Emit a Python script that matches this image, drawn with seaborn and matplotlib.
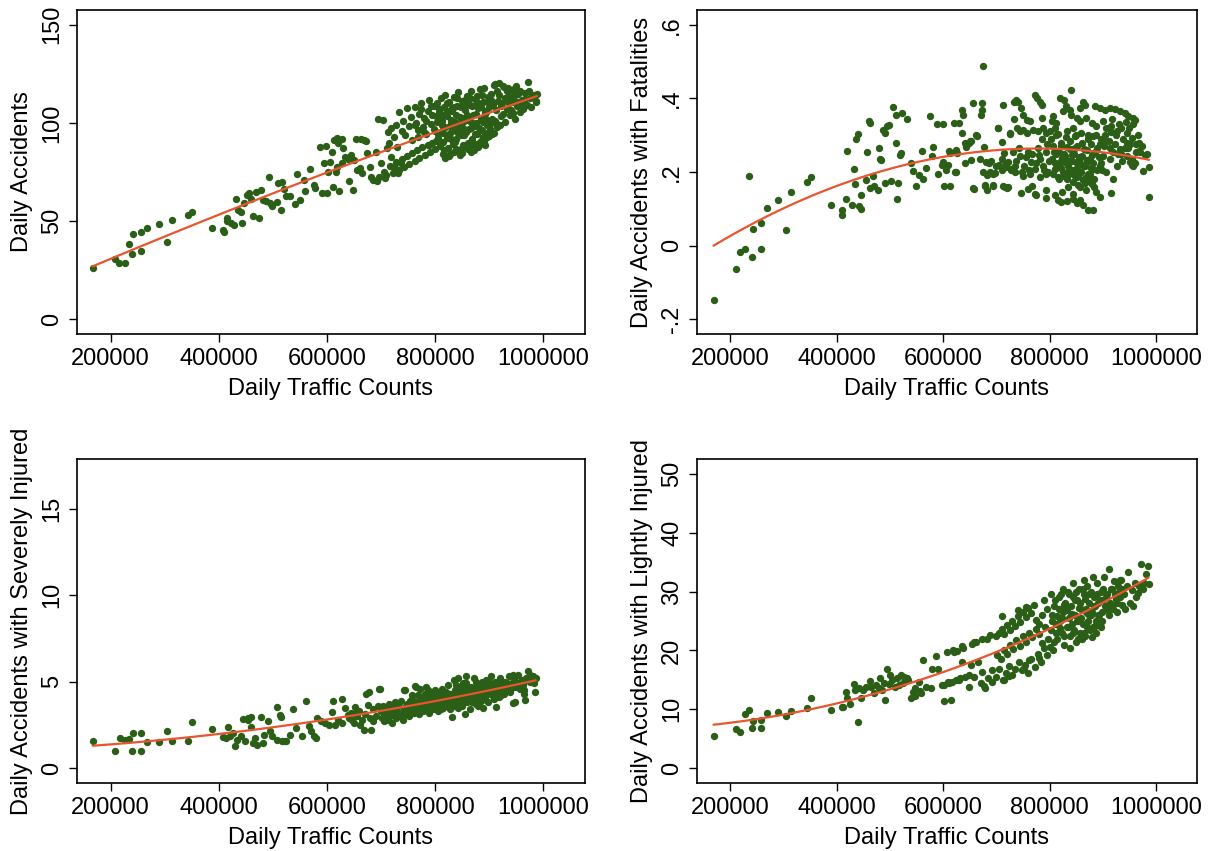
import numpy as np
import pandas as pd
import matplotlib
matplotlib.use("Agg")
import matplotlib.pyplot as plt
import seaborn as sns

# ---------------- data (traffic in thousands of vehicles per day) ----------------
acc_traffic_k = [
    167, 209, 216, 227, 234, 239, 241, 257, 257, 267,
    290, 304, 313, 344, 351, 388, 408, 409, 415, 416,
    422, 428, 432, 435, 442, 443, 447, 453, 456, 460,
    463, 468, 474, 478, 481, 487, 492, 494, 499, 508,
    509, 515, 517, 521, 524, 532, 541, 544, 551, 558,
    560, 569, 577, 578, 588, 590, 595, 598, 600, 602,
    605, 610, 612, 616, 618, 621, 623, 627, 628, 630,
    633, 638, 641, 645, 648, 650, 656, 661, 664, 668,
    672, 674, 679, 682, 686, 690, 693, 696, 700, 703,
    707, 711, 714, 718, 722, 725, 729, 732, 736, 653,
    712, 718, 724, 728, 733, 738, 741, 745, 748, 752,
    755, 758, 762, 765, 768, 771, 774, 777, 780, 783,
    786, 789, 792, 795, 798, 800, 663, 694, 613, 619,
    705, 710, 716, 722, 727, 733, 738, 743, 748, 752,
    757, 762, 767, 771, 776, 781, 786, 790, 795, 799,
    803, 807, 810, 813, 816, 819, 822, 825, 828, 831,
    834, 837, 840, 843, 846, 849, 852, 855, 858, 861,
    864, 867, 870, 873, 876, 879, 882, 885, 888, 891,
    894, 897, 900, 802, 806, 809, 812, 815, 818, 821,
    824, 827, 830, 833, 836, 839, 842, 845, 848, 851,
    854, 857, 860, 863, 866, 869, 872, 875, 878, 881,
    884, 887, 890, 893, 896, 899, 804, 811, 817, 823,
    829, 835, 841, 847, 853, 859, 865, 871, 877, 883,
    889, 895, 815, 825, 835, 850, 860, 880, 893, 902,
    903, 906, 909, 912, 915, 918, 921, 924, 927, 930,
    933, 936, 939, 942, 945, 948, 951, 954, 957, 960,
    963, 966, 969, 972, 975, 978, 982, 986, 988, 987,
    908, 913, 920, 910, 918, 926, 934, 942, 950, 944,
    762, 768, 773, 779, 784, 788, 793, 797, 801, 805,
    808, 812, 814, 818, 821, 826, 829, 832, 836, 838,
    841, 844, 848, 850, 853, 856, 859, 862, 864, 867,
    869, 873, 876, 878, 881, 884, 886, 889, 892, 895,
    898, 901, 904, 907, 911, 914, 917, 921, 925, 929,
    932, 937, 941, 946, 951, 956, 961, 967, 973, 979,
    818, 828, 838, 846, 856, 866, 874, 886, 896, 905,
]
acc_daily = [
    26.3, 30.5, 28.8, 28.5, 38.1, 33.1, 43.2, 44.5, 34.8, 46.6,
    48.6, 39.5, 50.4, 53.0, 54.8, 46.7, 45.7, 44.6, 51.6, 50.3,
    49.1, 48.2, 61.4, 55.8, 54.7, 49.1, 59.2, 63.4, 64.3, 61.2,
    52.5, 64.6, 51.6, 66.0, 60.9, 60.1, 72.7, 59.2, 57.5, 59.7,
    69.3, 55.8, 69.7, 66.3, 62.6, 62.9, 58.7, 74.1, 60.9, 71.0,
    65.1, 76.4, 68.5, 67.1, 87.9, 64.3, 79.5, 88.4, 64.3, 74.9,
    80.3, 85.4, 67.3, 75.2, 77.8, 89.6, 65.1, 79.5, 91.6, 87.1,
    82.8, 81.5, 70.2, 83.7, 65.6, 81.1, 76.1, 76.9, 74.4, 91.3,
    91.0, 84.5, 77.8, 72.7, 71.0, 85.4, 70.2, 72.7, 79.5, 101.4,
    71.9, 87.1, 89.6, 82.8, 77.8, 76.9, 87.9, 74.4, 79.5, 92.0,
    95.3, 97.5, 93.0, 99.0, 105.5, 96.0, 101.0, 94.0, 107.5, 98.5,
    103.0, 91.5, 108.0, 100.0, 96.5, 104.5, 110.0, 98.0, 102.5, 94.5,
    106.0, 111.5, 99.5, 104.0, 108.5, 96.0, 91.6, 101.8, 91.1, 92.3,
    75.0, 73.5, 78.0, 74.5, 80.0, 76.0, 81.5, 77.5, 83.0, 79.0,
    84.5, 80.5, 86.0, 82.0, 87.5, 83.5, 89.0, 85.0, 90.0, 86.5,
    110.0, 105.5, 112.5, 101.0, 108.0, 114.0, 103.5, 110.5, 98.5, 106.0,
    113.0, 100.5, 108.5, 115.5, 103.0, 111.0, 97.5, 106.5, 113.5, 101.5,
    109.0, 116.0, 104.0, 112.0, 99.5, 107.5, 117.5, 102.5, 110.5, 118.0,
    105.5, 113.0, 108.0, 91.0, 94.5, 88.0, 96.0, 90.5, 98.0, 92.5,
    87.0, 95.0, 100.0, 89.5, 97.0, 92.0, 85.5, 99.0, 94.0, 88.5,
    101.0, 95.5, 90.0, 103.0, 97.5, 92.0, 86.0, 100.0, 94.5, 89.0,
    102.0, 96.5, 91.0, 104.5, 99.0, 93.5, 100.5, 103.0, 86.0, 106.0,
    92.0, 108.0, 95.5, 86.5, 102.5, 109.5, 88.0, 98.5, 110.5, 90.5,
    100.5, 95.0, 84.0, 83.0, 85.0, 84.5, 86.5, 87.5, 88.5, 97.0,
    111.5, 102.0, 119.5, 106.5, 98.0, 114.0, 103.5, 110.0, 118.5, 100.5,
    107.0, 113.5, 104.0, 110.5, 117.5, 102.0, 108.5, 114.5, 105.5, 111.5,
    107.0, 115.0, 109.0, 121.0, 112.5, 108.0, 114.0, 111.0, 114.5, 110.5,
    95.0, 100.0, 99.0, 120.0, 120.3, 119.0, 118.0, 117.0, 119.0, 104.8,
    99.0, 93.0, 107.0, 95.5, 101.0, 89.0, 108.5, 97.0, 103.5, 92.5,
    107.0, 99.0, 95.0, 104.5, 110.0, 93.5, 101.5, 107.5, 90.5, 104.0,
    112.5, 96.5, 108.0, 101.5, 94.0, 111.5, 104.0, 97.0, 112.5, 100.5,
    108.5, 94.5, 104.5, 113.5, 97.5, 108.0, 114.0, 93.0, 106.0, 101.5,
    110.5, 99.5, 114.5, 109.0, 101.0, 116.5, 111.0, 108.5, 104.5, 112.5,
    116.0, 110.0, 106.5, 113.5, 110.5, 116.5, 109.5, 112.0, 116.0, 113.0,
    82.0, 84.0, 86.5, 83.5, 88.0, 85.0, 89.5, 91.5, 93.0, 94.5,
]

fat_traffic_k = [
    169, 212, 218, 228, 235, 241, 243, 258, 259, 269,
    291, 305, 315, 345, 353, 389, 410, 410, 419, 418,
    429, 432, 434, 437, 441, 443, 446, 446, 456, 458,
    461, 462, 462, 468, 470, 477, 479, 481, 484, 487,
    491, 492, 494, 498, 503, 507, 511, 512, 513, 516,
    519, 522, 523, 532, 539, 543, 549, 554, 560, 562,
    569, 576, 580, 581, 589, 591, 598, 600, 602, 606,
    609, 614, 614, 620, 624, 627, 630, 635, 636, 638,
    641, 642, 644, 649, 652, 653, 657, 658, 662, 671,
    673, 673, 676, 677, 679, 682, 682, 686, 689, 693,
    697, 703, 706, 710, 711, 713, 715, 717, 720, 722,
    726, 728, 772, 777, 782, 785, 738, 741, 747, 819,
    827, 831, 838, 863, 866, 857, 840, 885, 894, 904,
    913, 923, 932, 941, 948, 957, 960, 733, 750, 758,
    763, 785, 807, 804, 813, 825, 841, 851, 857, 869,
    879, 888, 901, 907, 916, 926, 935, 945, 954, 951,
    968, 968, 733, 739, 744, 750, 757, 769, 778, 788,
    794, 800, 810, 816, 832, 844, 847, 860, 872, 882,
    894, 904, 913, 923, 932, 941, 650, 663, 703, 725,
    612, 625, 600, 606, 622, 669, 681, 691, 700, 710,
    719, 728, 738, 744, 753, 760, 766, 772, 779, 782,
    788, 793, 797, 804, 807, 810, 813, 816, 819, 822,
    826, 829, 832, 835, 838, 840, 842, 844, 846, 849,
    851, 852, 855, 857, 859, 861, 863, 866, 869, 872,
    876, 879, 882, 885, 888, 894, 901, 907, 913, 919,
    926, 935, 945, 954, 675, 694, 719, 735, 750, 763,
    782, 794, 656, 678, 694, 713, 722, 747, 760, 768,
    772, 775, 794, 794, 810, 816, 822, 832, 844, 851,
    863, 872, 882, 894, 916, 919, 951, 954, 976, 987,
    987, 945, 957, 963, 830, 836, 845, 853, 868, 848,
    821, 824, 827, 833, 837, 843, 850, 854, 858, 864,
    867, 871, 874, 877, 880, 884, 890, 897, 811, 818,
    781, 786, 790, 795, 799, 802, 806, 809, 812, 815,
    818, 821, 824, 828, 831, 834, 837, 839, 842, 845,
    848, 850, 853, 856, 858, 861, 864, 867, 870, 873,
    876, 878, 881, 884, 887, 890, 893, 896, 899, 902,
    905, 912, 918, 925, 931, 938, 944, 950, 956, 962,
    966, 970, 974, 979, 983, 936, 928, 915, 948, 960,
    731, 736, 742, 748, 755, 761, 767, 774,
]
fat_daily = [
    -0.148, -0.064, -0.017, -0.008, 0.188, -0.031, 0.044, -0.010, 0.062, 0.102,
    0.125, 0.042, 0.146, 0.173, 0.186, 0.110, 0.096, 0.084, 0.258, 0.128,
    0.110, 0.208, 0.167, 0.289, 0.302, 0.107, 0.100, 0.137, 0.179, 0.255,
    0.339, 0.334, 0.156, 0.188, 0.163, 0.152, 0.266, 0.236, 0.233, 0.314,
    0.170, 0.305, 0.325, 0.329, 0.176, 0.377, 0.278, 0.354, 0.128, 0.170,
    0.246, 0.251, 0.359, 0.343, 0.224, 0.204, 0.161, 0.192, 0.257, 0.181,
    0.210, 0.353, 0.244, 0.269, 0.330, 0.195, 0.219, 0.330, 0.161, 0.206,
    0.219, 0.161, 0.251, 0.334, 0.199, 0.251, 0.334, 0.307, 0.368, 0.354,
    0.280, 0.224, 0.269, 0.278, 0.233, 0.283, 0.388, 0.154, 0.300, 0.354,
    0.368, 0.388, 0.487, 0.269, 0.163, 0.152, 0.192, 0.224, 0.199, 0.161,
    0.197, 0.320, 0.219, 0.282, 0.206, 0.383, 0.251, 0.158, 0.156, 0.228,
    0.302, 0.206, 0.409, 0.400, 0.391, 0.382, 0.396, 0.389, 0.374, 0.400,
    0.396, 0.378, 0.369, 0.391, 0.382, 0.374, 0.423, 0.378, 0.374, 0.369,
    0.374, 0.371, 0.365, 0.360, 0.353, 0.347, 0.342, 0.389, 0.356, 0.342,
    0.338, 0.347, 0.351, 0.338, 0.333, 0.365, 0.356, 0.347, 0.338, 0.347,
    0.333, 0.324, 0.338, 0.320, 0.324, 0.311, 0.320, 0.307, 0.293, 0.275,
    0.280, 0.258, 0.344, 0.320, 0.311, 0.315, 0.307, 0.315, 0.311, 0.320,
    0.307, 0.311, 0.320, 0.302, 0.311, 0.320, 0.298, 0.307, 0.289, 0.298,
    0.275, 0.284, 0.266, 0.275, 0.262, 0.266, 0.284, 0.299, 0.320, 0.305,
    0.257, 0.260, 0.226, 0.217, 0.201, 0.235, 0.226, 0.231, 0.217, 0.235,
    0.222, 0.208, 0.231, 0.244, 0.217, 0.253, 0.226, 0.208, 0.266, 0.235,
    0.217, 0.253, 0.199, 0.235, 0.271, 0.208, 0.248, 0.186, 0.226, 0.280,
    0.199, 0.244, 0.181, 0.217, 0.262, 0.199, 0.231, 0.173, 0.248, 0.208,
    0.186, 0.271, 0.226, 0.159, 0.199, 0.244, 0.177, 0.217, 0.150, 0.195,
    0.235, 0.168, 0.208, 0.253, 0.146, 0.217, 0.244, 0.199, 0.235, 0.253,
    0.217, 0.248, 0.280, 0.235, 0.199, 0.195, 0.213, 0.199, 0.190, 0.195,
    0.186, 0.195, 0.157, 0.164, 0.164, 0.161, 0.159, 0.143, 0.155, 0.161,
    0.141, 0.137, 0.150, 0.130, 0.137, 0.123, 0.119, 0.121, 0.128, 0.115,
    0.110, 0.097, 0.097, 0.132, 0.143, 0.182, 0.226, 0.219, 0.204, 0.213,
    0.132, 0.244, 0.217, 0.254, 0.228, 0.205, 0.262, 0.215, 0.225, 0.190,
    0.212, 0.238, 0.188, 0.268, 0.195, 0.245, 0.228, 0.165, 0.238, 0.262,
    0.185, 0.232, 0.175, 0.210, 0.245, 0.182, 0.205, 0.225, 0.225, 0.255,
    0.245, 0.290, 0.205, 0.275, 0.230, 0.290, 0.195, 0.255, 0.300, 0.215,
    0.180, 0.270, 0.145, 0.250, 0.295, 0.160, 0.230, 0.285, 0.205, 0.140,
    0.265, 0.300, 0.190, 0.240, 0.125, 0.280, 0.215, 0.170, 0.260, 0.300,
    0.195, 0.275, 0.225, 0.160, 0.300, 0.265, 0.240, 0.290, 0.205, 0.270,
    0.300, 0.285, 0.345, 0.300, 0.330, 0.290, 0.335, 0.320, 0.330, 0.275,
    0.300, 0.255, 0.270, 0.245, 0.250, 0.230, 0.250, 0.310, 0.265, 0.225,
    0.255, 0.215, 0.265, 0.200, 0.240, 0.205, 0.250, 0.225,
]

sev_traffic_k = [
    167, 209, 217, 226, 234, 241, 239, 257, 257, 267,
    290, 304, 313, 344, 351, 388, 408, 413, 417, 420,
    427, 430, 434, 442, 445, 449, 455, 460, 463, 467,
    470, 478, 481, 484, 491, 494, 499, 507, 508, 513,
    515, 517, 521, 524, 531, 538, 542, 553, 562, 567,
    571, 577, 580, 582, 589, 596, 603, 610, 612, 614,
    621, 627, 628, 633, 639, 646, 651, 656, 661, 668,
    672, 675, 679, 682, 686, 698, 640, 645, 650, 655,
    660, 665, 670, 677, 685, 690, 695, 697, 460, 454,
    700, 702, 704, 706, 708, 710, 712, 714, 716, 718,
    720, 722, 724, 726, 728, 730, 732, 734, 736, 738,
    740, 742, 744, 746, 748, 750, 752, 754, 756, 758,
    760, 762, 764, 766, 768, 770, 772, 774, 776, 778,
    780, 782, 784, 786, 788, 790, 792, 794, 796, 798,
    800, 802, 804, 806, 808, 810, 812, 814, 816, 818,
    820, 822, 824, 826, 828, 830, 831, 832, 834, 836,
    838, 840, 842, 843, 844, 846, 848, 850, 852, 854,
    856, 857, 858, 860, 862, 864, 866, 868, 870, 872,
    874, 876, 878, 879, 880, 882, 884, 886, 888, 889,
    890, 892, 894, 896, 898, 900, 903, 905, 908, 910,
    912, 914, 916, 918, 920, 922, 925, 928, 930, 933,
    936, 939, 942, 943, 944, 946, 947, 950, 953, 956,
    960, 963, 966, 968, 971, 975, 980, 984, 986, 965,
    805, 815, 825, 835, 845, 855, 865, 875, 885, 895,
    801, 811, 821, 833, 847, 853, 863, 873, 883, 893,
    743, 763, 783, 803, 823, 838, 858, 877, 897, 917,
    751, 757, 763, 769, 775, 781, 787, 793, 799, 807,
    813, 819, 827, 834, 839, 845, 851, 857, 863, 869,
    875, 881, 887, 893, 899, 906, 913, 919, 926, 932,
    938, 945, 951, 958, 964, 970, 976, 982, 909, 921,
]
sev_daily = [
    1.55, 1.01, 1.74, 1.65, 1.70, 2.03, 1.01, 2.03, 1.01, 1.51,
    1.51, 2.12, 1.59, 1.59, 2.64, 2.28, 1.78, 1.74, 2.35, 1.84,
    2.03, 1.26, 1.65, 1.84, 2.83, 1.55, 2.89, 2.35, 1.45, 1.74,
    1.36, 2.98, 1.45, 1.93, 2.70, 2.12, 1.84, 1.65, 3.56, 3.08,
    2.98, 1.55, 1.55, 1.59, 1.93, 3.42, 2.31, 1.84, 3.88, 2.41,
    2.12, 1.84, 1.74, 2.89, 2.70, 2.60, 2.51, 3.27, 3.88, 2.51,
    2.79, 3.98, 2.60, 3.46, 3.08, 2.79, 3.56, 3.27, 2.51, 2.22,
    4.27, 3.65, 2.89, 2.22, 2.70, 4.55, 2.90, 3.20, 2.60, 3.00,
    3.30, 2.80, 3.10, 4.39, 3.40, 3.00, 3.60, 4.59, 2.93, 2.79,
    3.3, 2.9, 3.6, 2.7, 3.1, 3.4, 2.8, 3.7, 3.0, 3.3,
    2.6, 3.5, 3.1, 3.8, 2.9, 3.3, 3.6, 3.0, 3.9, 3.2,
    2.8, 3.5, 4.5, 3.1, 3.7, 3.3, 3.0, 3.9, 3.5, 4.2,
    3.2, 3.7, 4.7, 3.4, 3.9, 3.1, 4.6, 3.6, 4.1, 3.3,
    3.8, 4.3, 3.5, 4.0, 3.2, 4.4, 3.7, 4.1, 3.4, 3.9,
    4.5, 3.6, 4.0, 3.3, 4.3, 3.8, 4.6, 3.5, 4.1, 3.9,
    4.4, 3.6, 4.8, 4.0, 3.4, 4.2, 2.95, 3.8, 5.1, 4.5,
    3.7, 4.1, 3.5, 5.2, 4.7, 3.9, 4.3, 3.6, 4.9, 4.2,
    3.1, 5.3, 3.8, 4.5, 4.0, 3.4, 4.7, 4.2, 3.9, 5.2,
    4.4, 3.7, 4.8, 3.6, 4.1, 4.6, 3.9, 5.0, 4.3, 3.5,
    4.7, 4.0, 5.1, 4.4, 3.8, 4.8, 5.3, 4.2, 4.6, 5.0,
    3.55, 4.4, 4.9, 4.1, 5.2, 4.5, 4.8, 4.3, 5.0, 4.6,
    5.3, 4.4, 4.9, 5.4, 3.75, 4.7, 3.8, 5.0, 5.4, 4.6,
    5.1, 4.8, 3.95, 5.2, 5.6, 5.0, 5.3, 4.4, 5.2, 4.3,
    3.9, 4.0, 4.1, 4.3, 4.4, 4.6, 4.3, 4.5, 4.6, 4.3,
    3.7, 3.4, 3.9, 3.6, 4.0, 3.9, 4.6, 4.1, 4.2, 4.5,
    4.52, 4.76, 4.68, 4.2, 3.7, 4.3, 4.1, 3.9, 4.4, 4.7,
    3.7, 4.0, 3.4, 4.2, 3.9, 3.6, 4.5, 4.2, 3.8, 4.1,
    4.4, 3.7, 4.3, 3.9, 4.8, 4.5, 4.1, 4.9, 4.4, 3.8,
    5.0, 4.3, 4.7, 4.1, 5.0, 4.5, 4.8, 5.1, 4.4, 4.9,
    4.6, 5.2, 4.7, 5.0, 4.5, 5.1, 5.4, 4.9, 4.0, 4.2,
]

lig_traffic_k = [
    169, 212, 218, 228, 235, 241, 243, 258, 259, 269,
    291, 305, 315, 345, 353, 390, 410, 412, 417, 419,
    426, 432, 434, 441, 443, 446, 450, 456, 462, 464,
    470, 474, 479, 481, 485, 489, 492, 494, 498, 501,
    505, 510, 514, 518, 521, 525, 532, 540, 543, 547,
    554, 562, 559, 569, 578, 580, 587, 591, 598, 602,
    602, 608, 609, 615, 616, 620, 624, 627, 631, 635,
    637, 642, 649, 652, 654, 659, 662, 666, 671, 679,
    682, 684, 689, 674, 658, 636, 618, 611, 630, 649,
    674, 692, 677, 692, 714, 724, 527, 535, 548, 556,
    700, 705, 710, 715, 720, 725, 730, 735, 740, 745,
    750, 755, 760, 765, 770, 775, 780, 785, 790, 795,
    702, 708, 714, 720, 726, 732, 738, 744, 750, 756,
    762, 768, 774, 780, 786, 792, 798, 711, 741, 756,
    700, 706, 712, 718, 724, 730, 736, 742, 748, 754,
    760, 766, 772, 778, 784, 790, 796, 800, 752, 761,
    802, 805, 808, 810, 812, 815, 817, 820, 822, 824,
    826, 828, 830, 832, 834, 836, 838, 840, 842, 844,
    846, 848, 850, 852, 854, 856, 858, 860, 862, 864,
    866, 868, 870, 872, 874, 876, 878, 880, 882, 884,
    886, 888, 890, 892, 894, 896, 898, 900, 806, 814,
    819, 827, 833, 839, 843, 849, 855, 861, 867, 873,
    879, 885, 891, 897, 803, 825, 845, 865, 881, 780,
    903, 906, 909, 912, 915, 918, 921, 924, 927, 930,
    933, 936, 939, 942, 945, 948, 951, 954, 957, 960,
    963, 966, 969, 972, 975, 978, 982, 985, 986, 935,
    804, 809, 813, 818, 823, 828, 831, 835, 837, 841,
    845, 847, 851, 853, 857, 859, 863, 865, 869, 871,
    875, 877, 883, 887, 889, 893, 895, 899, 901, 905,
    908, 911, 914, 917, 920, 923, 926, 929, 932, 937,
]
lig_daily = [
    5.40, 6.69, 6.24, 9.22, 9.90, 6.80, 8.10, 6.92, 8.21, 9.45,
    9.62, 8.94, 9.73, 10.18, 11.87, 9.90, 10.35, 10.46, 12.88, 11.87,
    10.85, 14.23, 13.27, 7.82, 13.55, 11.98, 13.27, 13.83, 14.79, 13.83,
    12.71, 14.12, 13.67, 15.24, 13.27, 14.40, 11.59, 16.82, 14.23, 15.80,
    14.96, 13.83, 15.35, 14.12, 15.80, 14.40, 15.24, 11.98, 12.88, 13.55,
    14.68, 18.45, 12.71, 13.83, 13.55, 16.90, 19.00, 16.93, 14.12, 11.42,
    14.12, 19.74, 14.57, 11.59, 14.68, 19.74, 14.96, 19.85, 15.24, 18.05,
    20.42, 15.52, 13.83, 17.49, 21.15, 15.52, 21.43, 18.05, 14.40, 13.55,
    21.99, 15.24, 22.6, 21.9, 21.5, 20.7, 20.1, 14.4, 15.0, 15.8,
    16.4, 16.7, 13.9, 14.7, 15.0, 15.6, 15.5, 14.9, 12.2, 13.2,
    22.5, 23.0, 23.6, 22.8, 24.3, 23.5, 25.0, 24.2, 25.8, 24.9,
    26.5, 25.7, 27.2, 26.3, 27.8, 25.2, 24.5, 26.0, 28.5, 27.0,
    19.2, 18.5, 20.0, 19.4, 21.0, 20.2, 21.8, 20.8, 22.4, 21.5,
    23.0, 22.2, 23.6, 22.8, 21.2, 23.9, 22.0, 25.9, 26.9, 27.4,
    15.5, 16.8, 15.0, 16.2, 17.4, 15.8, 16.9, 18.0, 16.6, 17.6,
    16.2, 18.5, 17.2, 19.4, 18.1, 20.5, 19.3, 20.6, 17.0, 18.4,
    23.5, 26.0, 21.5, 28.5, 24.5, 22.0, 27.0, 25.0, 29.5, 23.0,
    26.5, 21.0, 28.0, 24.0, 30.0, 25.5, 22.5, 27.5, 24.5, 29.0,
    23.5, 26.0, 21.5, 28.5, 25.0, 30.5, 23.0, 27.0, 24.5, 29.5,
    22.5, 26.5, 31.0, 25.0, 28.0, 23.5, 30.0, 26.5, 24.0, 29.0,
    27.5, 25.0, 31.5, 28.0, 24.5, 30.0, 26.5, 28.5, 20.0, 25.8,
    23.8, 27.8, 26.8, 20.5, 26.2, 30.0, 27.2, 22.0, 28.8, 26.2,
    22.2, 24.2, 26.0, 24.0, 29.5, 30.5, 31.5, 32.0, 32.5, 18.7,
    32.5, 29.0, 26.8, 33.8, 30.5, 27.5, 31.8, 28.8, 26.5, 30.0,
    32.0, 27.8, 29.5, 27.0, 31.0, 33.4, 28.0, 30.2, 27.5, 31.5,
    29.0, 29.7, 31.0, 34.7, 30.5, 31.5, 33.0, 34.3, 31.2, 32.0,
    25.0, 27.5, 23.0, 29.0, 25.5, 22.5, 27.0, 24.0, 29.5, 26.0,
    23.0, 28.5, 25.0, 22.0, 28.0, 25.5, 30.5, 23.0, 27.0, 24.0,
    29.5, 26.0, 27.5, 23.0, 29.5, 26.0, 28.5, 25.0, 30.5, 27.5,
    29.5, 26.0, 28.0, 30.5, 27.0, 29.5, 28.0, 31.0, 29.0, 30.5,
]

x_ticks = [200000, 400000, 600000, 800000, 1000000]
x_tick_labels = ["200000", "400000", "600000", "800000", "1000000"]

acc_yticks = [0, 50, 100, 150]
acc_ylabels = ["0", "50", "100", "150"]
fat_yticks = [-0.2, 0, 0.2, 0.4, 0.6]
fat_ylabels = ["-.2", "0", ".2", ".4", ".6"]
sev_yticks = [0, 5, 10, 15]
sev_ylabels = ["0", "5", "10", "15"]
lig_yticks = [0, 10, 20, 30, 40, 50]
lig_ylabels = ["0", "10", "20", "30", "40", "50"]

# ---------------- style ----------------
sns.set_style("ticks")
plt.rcParams["font.family"] = ["Liberation Sans", "DejaVu Sans"]
for key in ["text.color", "axes.labelcolor", "xtick.color", "ytick.color",
            "axes.edgecolor"]:
    plt.rcParams[key] = "black"

GREEN = "#2b5e17"
ORANGE = "#e8552f"
FS = 17

W, H = 1213, 851
fig = plt.figure(figsize=(W / 100, H / 100), dpi=100)

def box(left, top, right, bottom):
    return [left / W, (H - bottom) / H, (right - left) / W, (bottom - top) / H]

panels = [
    (box(77, 10, 585, 334), acc_traffic_k, acc_daily, "Daily Accidents",
     (-7.5, 157.5), acc_yticks, acc_ylabels),
    (box(697, 10, 1197, 334), fat_traffic_k, fat_daily, "Daily Accidents with Fatalities",
     (-0.24, 0.64), fat_yticks, fat_ylabels),
    (box(77, 459, 585, 783), sev_traffic_k, sev_daily, "Daily Accidents with Severely Injured",
     (-0.86, 17.87), sev_yticks, sev_ylabels),
    (box(697, 459, 1197, 783), lig_traffic_k, lig_daily, "Daily Accidents with Lightly Injured",
     (-2.5, 52.5), lig_yticks, lig_ylabels),
]

for rect, xk, yv, ylab, ylim, yt, ytl in panels:
    ax = fig.add_axes(rect)
    df = pd.DataFrame({"traffic": np.array(xk, dtype=float) * 1000, "value": yv})
    sns.scatterplot(data=df, x="traffic", y="value", ax=ax, color=GREEN,
                    s=28, linewidth=0, zorder=2)
    sns.regplot(data=df, x="traffic", y="value", ax=ax, order=2, ci=None,
                scatter=False, line_kws=dict(color=ORANGE, lw=1.6, zorder=3))
    ax.set_xlim(138000, 1077000)
    ax.set_ylim(*ylim)
    ax.set_xticks(x_ticks)
    ax.set_xticklabels(x_tick_labels)
    ax.set_yticks(yt)
    ax.set_yticklabels(ytl, rotation=90, va="center")
    ax.set_xlabel("Daily Traffic Counts", fontsize=FS, labelpad=6)
    ax.set_ylabel(ylab, fontsize=FS, labelpad=6)
    ax.tick_params(direction="out", length=6, width=1, labelsize=FS, pad=4,
                   color="black")
    for sp in ax.spines.values():
        sp.set_visible(True)
        sp.set_linewidth(1.2)
        sp.set_color("black")

fig.savefig("out.png", dpi=100, facecolor="white")
